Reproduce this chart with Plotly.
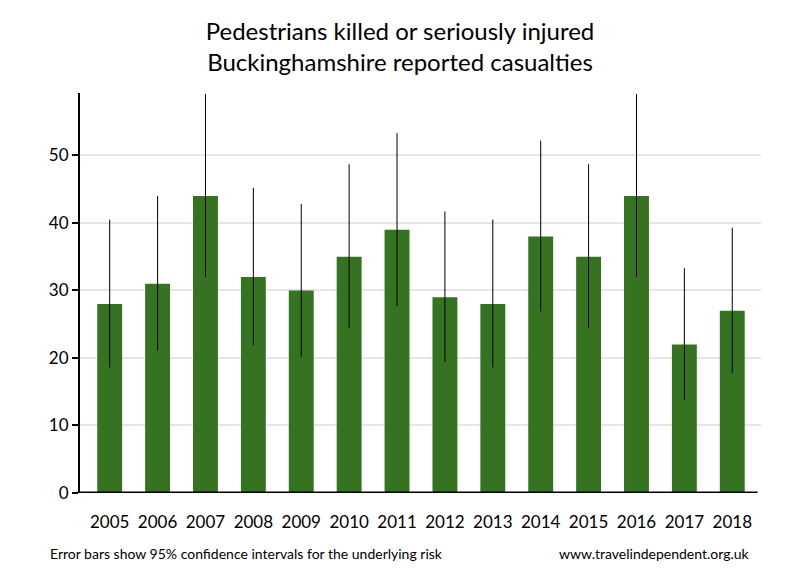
import plotly.graph_objects as go

years = ["2005", "2006", "2007", "2008", "2009", "2010", "2011",
         "2012", "2013", "2014", "2015", "2016", "2017", "2018"]
casualties = [28, 31, 44, 32, 30, 35, 39, 29, 28, 38, 35, 44, 22, 27]
ci_lower = [18.6, 21.1, 32.0, 21.9, 20.2, 24.4, 27.7, 19.4, 18.6, 26.9, 24.4, 32.0, 13.8, 17.8]
ci_upper = [40.5, 44.0, 59.1, 45.2, 42.8, 48.7, 53.3, 41.7, 40.5, 52.2, 48.7, 59.1, 33.3, 39.3]

err_plus = [u - v for u, v in zip(ci_upper, casualties)]
err_minus = [v - l for v, l in zip(casualties, ci_lower)]

FONT = "Lato, Open Sans, sans-serif"

fig = go.Figure()
fig.add_trace(go.Bar(
    x=list(range(len(years))),
    y=casualties,
    marker=dict(color="#367321", line=dict(width=0)),
    width=0.52,
    error_y=dict(type="data", symmetric=False, array=err_plus, arrayminus=err_minus,
                 color="black", thickness=1, width=0),
    hoverinfo="x+y",
))

fig.update_layout(
    width=800, height=580,
    margin=dict(l=80, r=39, t=93, b=87),
    paper_bgcolor="white", plot_bgcolor="white",
    showlegend=False,
    title=dict(text="Pedestrians killed or seriously injured<br>Buckinghamshire reported casualties",
               x=0.5, xanchor="center", y=1 - 40 / 580, yanchor="middle",
               font=dict(family=FONT, size=24, color="black")),
    font=dict(family=FONT, color="black"),
)
fig.update_xaxes(
    tickmode="array", tickvals=list(range(len(years))), ticktext=years,
    range=[-0.62, 13.6], showgrid=False, zeroline=False,
    showline=False, ticks="", tickfont=dict(size=17, color="black"),
    ticklabelstandoff=17,
)
fig.update_yaxes(
    range=[0, 59.25], tickvals=[0, 10, 20, 30, 40, 50],
    showgrid=True, gridcolor="#e6e6e6", gridwidth=2,
    zeroline=False, showline=True, linecolor="black", linewidth=2,
    ticks="outside", ticklen=6, tickcolor="black", tickwidth=2,
    tickfont=dict(size=17, color="black"),
)
# x-axis baseline
fig.add_shape(type="line", xref="paper", yref="y", x0=0, x1=0.995, y0=0, y1=0,
              line=dict(color="black", width=3))

fig.add_annotation(text="Error bars show 95% confidence intervals for the underlying risk",
                   xref="paper", yref="paper", x=-0.047, y=-0.15, xanchor="left", yanchor="middle",
                   showarrow=False, font=dict(family=FONT, size=14, color="black"))
fig.add_annotation(text="www.travelindependent.org.uk",
                   xref="paper", yref="paper", x=0.987, y=-0.15, xanchor="right", yanchor="middle",
                   showarrow=False, font=dict(family=FONT, size=14, color="black"))

fig.write_html("out.html", config={"displayModeBar": False},
               post_script="document.body.style.margin='0';document.body.style.overflow='hidden';")
